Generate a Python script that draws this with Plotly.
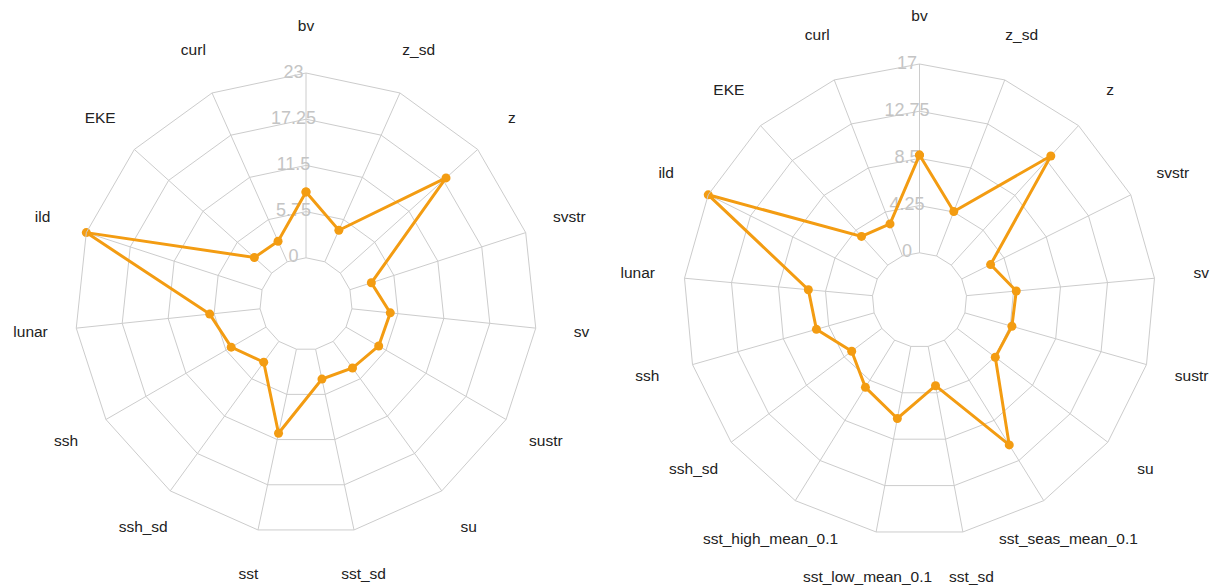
import plotly.graph_objects as go

# ---- data ----
left_categories = ["bv", "curl", "EKE", "ild", "lunar", "ssh", "ssh_sd", "sst",
                   "sst_sd", "su", "sustr", "sv", "svstr", "z", "z_sd"]
left_values = [8.2, 2.8, 2.9, 23.0, 6.3, 5.0, 3.2, 10.7,
               3.8, 4.1, 4.7, 4.8, 2.8, 17.7, 4.3]
left_ticks = [0, 5.75, 11.5, 17.25, 23]

right_categories = ["bv", "curl", "EKE", "ild", "lunar", "ssh", "ssh_sd",
                    "sst_high_mean_0.1", "sst_low_mean_0.1", "sst_sd",
                    "sst_seas_mean_0.1", "su", "sustr", "sv", "svstr", "z", "z_sd"]
right_values = [8.8, 3.1, 3.5, 17.0, 5.8, 5.4, 3.4,
                5.0, 6.6, 3.6,
                11.1, 4.3, 4.4, 4.5, 2.9, 13.3, 4.3]
right_ticks = [0, 4.25, 8.5, 12.75, 17]

ORANGE = "#f39c12"
GRID = "#cccccc"
W, H = 1211, 586
NBSP = "\u00a0"

fig = go.Figure()


def add_chart(cats, vals, ticks, subplot, label_subplot):
    rmax = ticks[-1]
    eps = 1e-3 * rmax  # keeps the "0" label from being culled at the inner ring
    # radial tick labels along the first category's spoke
    fig.add_trace(go.Scatterpolar(
        r=[max(t, eps) for t in ticks], theta=[cats[0]] * len(ticks),
        text=[f"{t:g}" + NBSP * 5 for t in ticks],
        mode="text", textposition="middle center",
        textfont=dict(size=18, color="#c4c4c4", family="Arial"),
        hoverinfo="skip", cliponaxis=False, subplot=subplot, showlegend=False))
    # data line (closed)
    fig.add_trace(go.Scatterpolar(
        r=vals + vals[:1], theta=cats + cats[:1],
        mode="lines+markers", line=dict(color=ORANGE, width=3),
        marker=dict(color=ORANGE, size=9), cliponaxis=False,
        subplot=subplot, showlegend=False))
    # category labels on an outer, invisible ring
    fig.add_trace(go.Scatterpolar(
        r=[1] * len(cats), theta=cats, text=cats,
        mode="text", textposition="middle center",
        textfont=dict(size=15.5, color="#222222", family="Arial"),
        hoverinfo="skip", cliponaxis=False, subplot=label_subplot, showlegend=False))


add_chart(left_categories, left_values, left_ticks, "polar", "polar3")
add_chart(right_categories, right_values, right_ticks, "polar2", "polar4")


def dom(cx, cy, R):
    return dict(x=[(cx - R) / W, (cx + R) / W], y=[1 - (cy + R) / H, 1 - (cy - R) / H])


def polar_layout(cx, cy, R, cats, ticks):
    return dict(
        domain=dom(cx, cy, R),
        hole=0.2,
        gridshape="linear",
        bgcolor="white",
        radialaxis=dict(
            range=[ticks[0], ticks[-1]], tickvals=ticks,
            showticklabels=False, angle=90, showline=False, ticks="",
            gridcolor=GRID, gridwidth=1,
        ),
        angularaxis=dict(
            direction="counterclockwise", rotation=90,
            categoryorder="array", categoryarray=cats,
            gridcolor=GRID, gridwidth=1,
            showline=True, linecolor=GRID, linewidth=1,
            ticks="", showticklabels=False,
        ),
    )


def label_ring(cx, cy, R, cats):
    return dict(
        domain=dom(cx, cy, R),
        bgcolor="rgba(0,0,0,0)",
        radialaxis=dict(range=[0, 1.0001], visible=False),
        angularaxis=dict(
            direction="counterclockwise", rotation=90,
            categoryorder="array", categoryarray=cats,
            showgrid=False, showline=False, ticks="", showticklabels=False,
        ),
    )


fig.update_layout(
    width=W, height=H,
    margin=dict(l=0, r=0, t=0, b=0),
    paper_bgcolor="white", plot_bgcolor="white",
    polar=polar_layout(306, 304, 231, left_categories, left_ticks),
    polar2=polar_layout(919.5, 300, 236, right_categories, right_ticks),
    polar3=label_ring(306, 304, 277, left_categories),
    polar4=label_ring(919.5, 300, 283, right_categories),
)

fig.write_html("out.html", config={"displayModeBar": False},
               post_script="document.body.style.margin='0px';document.body.style.overflow='hidden';")
